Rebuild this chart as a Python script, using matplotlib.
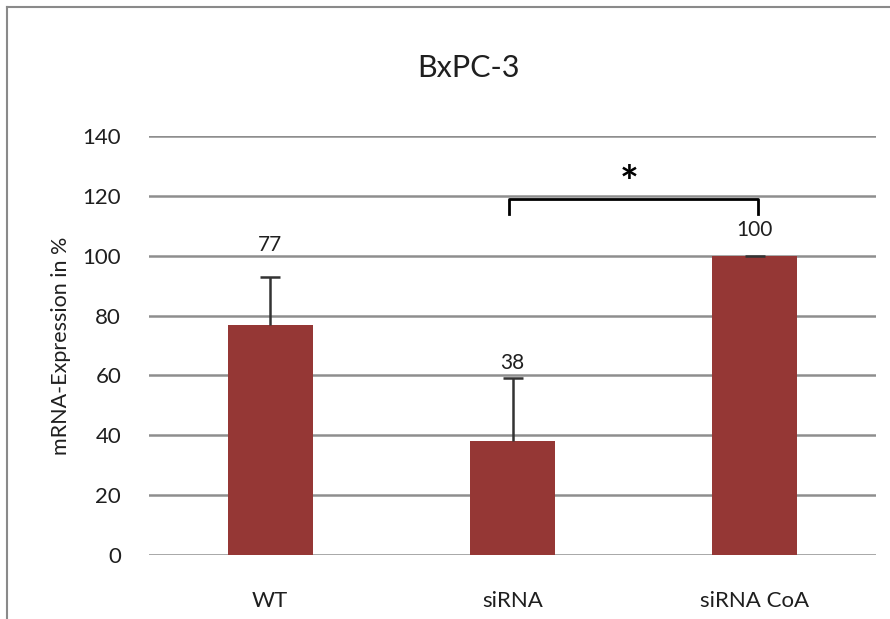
import matplotlib
matplotlib.use("Agg")
import matplotlib.pyplot as plt
from matplotlib.lines import Line2D

plt.rcParams['font.family'] = ['Lato', 'DejaVu Sans']

categories = ["WT", "siRNA", "siRNA CoA"]
values = [77, 38, 100]
errors_up = [16, 21, 0]
value_labels = ["77", "38", "100"]
label_heights = [103.5, 64, 108.6]
yticks = [0, 20, 40, 60, 80, 100, 120, 140]
title = "BxPC-3"
ylabel = "mRNA-Expression in %"
sig_pair = (1, 2)
sig_text = "*"

bar_color = "#953735"
grid_color = "#8e8e8e"
text_color = "#1f1f1f"
err_color = "#333333"

fig = plt.figure(figsize=(8.9, 6.19), dpi=100)
ax = fig.add_axes([149 / 890, 64 / 619, 727 / 890, 419 / 619])

x = list(range(len(categories)))
ax.bar(x, values, width=0.35, color=bar_color, zorder=3)

# upper error bars only: stem from bar top plus a cap at the end
tops = [v + e for v, e in zip(values, errors_up)]
ax.vlines(x, values, tops, color=err_color, lw=1.8, zorder=4)
ax.scatter(x, tops, marker="_", s=190, linewidths=1.8, color=err_color, zorder=4)

for xi, lab, h in zip(x, value_labels, label_heights):
    ax.text(xi, h, lab, ha="center", va="center", fontsize=15, color=text_color)

# significance bracket
a, b = sig_pair
y_top, y_leg = 119, 114
ax.plot([a - 0.015, a - 0.015, b + 0.015, b + 0.015], [y_leg, y_top, y_top, y_leg],
        color="black", lw=2, solid_joinstyle="round", zorder=5, clip_on=False)
ax.text((a + b) / 2 - 0.02, 124.0, sig_text, ha="center", va="center",
        fontsize=32, fontweight="bold", color="black")

ax.set_xlim(-0.5, len(categories) - 0.5)
ax.set_ylim(0, 140)
ax.set_yticks(yticks)
ax.set_xticks(x)
ax.set_xticklabels(categories)
ax.tick_params(axis="both", length=0, labelsize=16, colors=text_color)
ax.tick_params(axis="y", pad=20)
ax.tick_params(axis="x", pad=26)
ax.yaxis.grid(True, color=grid_color, lw=1.8, zorder=0)
ax.set_axisbelow(True)
for s in ax.spines.values():
    s.set_visible(False)

ax.set_ylabel(ylabel, fontsize=15.5, color=text_color, labelpad=8)
fig.text(468 / 890, 1 - 68 / 619, title, ha="center", va="center",
         fontsize=22, color=text_color)

# chart frame
fig.add_artist(Line2D([7 / 890, 7 / 890], [0, 1 - 7 / 619], color="#8a8a8a", lw=1.5))
fig.add_artist(Line2D([7 / 890, 1], [1 - 7 / 619, 1 - 7 / 619], color="#8a8a8a", lw=1.5))

fig.savefig("out.png", dpi=100, facecolor="white")
